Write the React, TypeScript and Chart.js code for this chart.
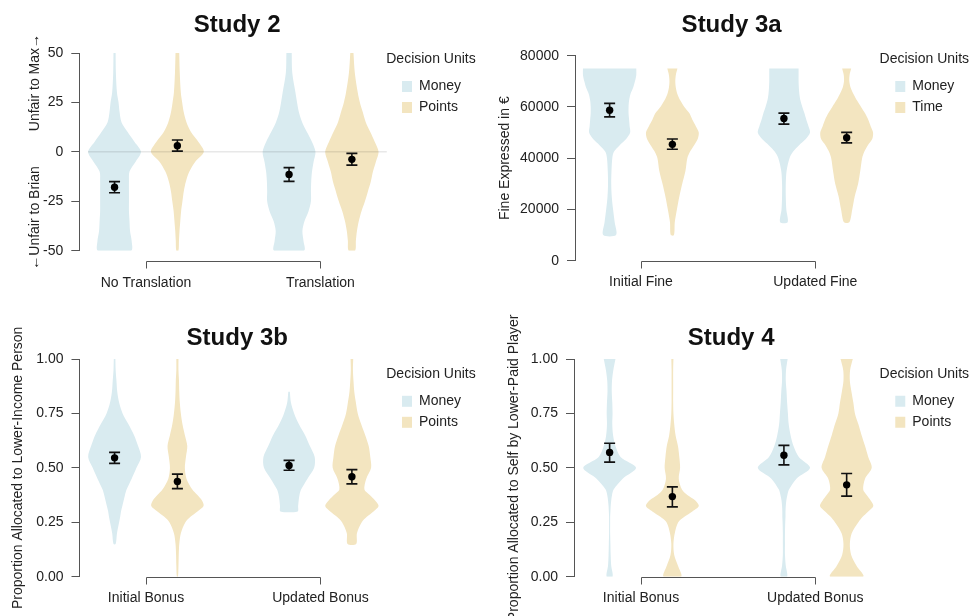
import React, { useEffect, useRef } from 'react';
import { Chart, registerables } from 'chart.js';

Chart.register(...registerables);

const FONT = "'Liberation Sans', Arial, Helvetica, sans-serif";
const BLUE = '#d9ebf0';
const GOLD = '#f3e5c0';
const AXIS = '#555555';
const TEXT = '#222222';
const GROUPS = [1, 2];
const DODGE = 0.18;
const VIOLIN_HALF_WIDTH = 0.153;
const LEGEND_TITLE = 'Decision Units';

// ---------- Study 2 ----------
const s2Categories = ['No Translation', 'Translation'];
const s2Units = ['Money', 'Points'];
const s2Ticks = [-50, -25, 0, 25, 50];
const s2Levels = [50, 40, 30, 25, 20, 15, 10, 5, 0, -5, -10, -15, -20, -25, -30, -35, -40, -45, -50];
const s2MoneyNoTrans = [0.04, 0.05, 0.09, 0.15, 0.19, 0.26, 0.49, 0.75, 0.99, 0.79, 0.56, 0.54, 0.54, 0.54, 0.54, 0.56, 0.58, 0.64, 0.62];
const s2PointsNoTrans = [0.07, 0.09, 0.13, 0.18, 0.24, 0.34, 0.51, 0.79, 0.99, 0.67, 0.45, 0.32, 0.24, 0.19, 0.14, 0.11, 0.08, 0.06, 0.04];
const s2MoneyTrans = [0.10, 0.12, 0.24, 0.30, 0.37, 0.49, 0.67, 0.86, 0.99, 0.92, 0.86, 0.83, 0.82, 0.82, 0.73, 0.58, 0.50, 0.54, 0.56];
const s2PointsTrans = [0.06, 0.11, 0.22, 0.30, 0.41, 0.52, 0.69, 0.86, 1.0, 0.90, 0.79, 0.71, 0.60, 0.49, 0.36, 0.26, 0.19, 0.15, 0.12];
const s2Means = [-17.9, 3.1, -11.4, -3.8];
const s2Lower = [-20.7, 0.4, -14.9, -6.7];
const s2Upper = [-15.1, 6.0, -8.0, -0.8];
const s2ZeroLine = [0.668, 2.38];

// ---------- Study 3a ----------
const s3aCategories = ['Initial Fine', 'Updated Fine'];
const s3aUnits = ['Money', 'Time'];
const s3aTicks = [0, 20000, 40000, 60000, 80000];
const s3aLevels = [75000, 72500, 70000, 67500, 65000, 62500, 60000, 57500, 55000, 52500, 50000, 47500, 45000, 42500, 40000, 35000, 30000, 25000, 20000, 15000, 10000];
const s3aMoneyInitial = [1.0, 1.0, 0.95, 0.88, 0.78, 0.73, 0.71, 0.71, 0.73, 0.75, 0.77, 0.62, 0.37, 0.16, 0.10, 0.07, 0.06, 0.08, 0.13, 0.19, 0.24];
const s3aTimeInitial = [0.19, 0.13, 0.11, 0.13, 0.19, 0.30, 0.45, 0.64, 0.75, 0.88, 0.99, 0.95, 0.81, 0.66, 0.56, 0.49, 0.37, 0.26, 0.17, 0.09, 0.06];
const s3aMoneyUpdated = [0.55, 0.55, 0.55, 0.56, 0.58, 0.62, 0.69, 0.77, 0.84, 0.92, 0.98, 0.82, 0.56, 0.34, 0.21, 0.10, 0.07, 0.07, 0.09, 0.14, null];
const s3aTimeUpdated = [0.17, 0.11, 0.10, 0.15, 0.26, 0.39, 0.54, 0.69, 0.81, 0.90, 0.99, 0.96, 0.79, 0.66, 0.58, 0.51, 0.43, 0.30, 0.21, 0.10, null];
const s3aMeans = [58700, 45400, 55500, 48000];
const s3aLower = [56100, 43500, 53300, 46000];
const s3aUpper = [61400, 47500, 57600, 50100];

// ---------- Study 3b ----------
const s3bCategories = ['Initial Bonus', 'Updated Bonus'];
const s3bUnits = ['Money', 'Points'];
const propTicks = [0, 0.25, 0.5, 0.75, 1];
const propLevels = [1, 0.95, 0.9, 0.85, 0.8, 0.75, 0.7, 0.65, 0.6, 0.55, 0.5, 0.45, 0.4, 0.375, 0.35, 0.325, 0.3, 0.275, 0.25, 0.2, 0.15, 0.1, 0.05, 0];
const s3bMoneyInitial = [0.03, 0.04, 0.07, 0.10, 0.17, 0.30, 0.52, 0.73, 0.88, 0.99, 0.82, 0.64, 0.45, 0.39, 0.34, 0.29, 0.24, 0.21, 0.17, 0.09, 0.04, null, null, null];
const s3bPointsInitial = [0.04, 0.04, 0.06, 0.07, 0.09, 0.13, 0.19, 0.28, 0.37, 0.32, 0.28, 0.34, 0.56, 0.75, 0.92, 0.98, 0.75, 0.49, 0.30, 0.13, 0.07, 0.05, 0.04, 0.02];
const s3bMoneyUpdated = [null, null, null, 0.03, 0.07, 0.19, 0.37, 0.60, 0.78, 0.96, 0.94, 0.69, 0.45, 0.39, 0.36, 0.34, 0.32, null, null, null, null, null, null, null];
const s3bPointsUpdated = [0.05, 0.04, 0.06, 0.09, 0.15, 0.22, 0.35, 0.50, 0.63, 0.69, 0.72, 0.54, 0.47, 0.67, 0.87, 1.0, 0.81, 0.56, 0.37, 0.19, 0.16, null, null, null];
const s3bMeans = [0.546, 0.437, 0.511, 0.459];
const s3bLower = [0.521, 0.405, 0.489, 0.426];
const s3bUpper = [0.571, 0.471, 0.534, 0.492];

// ---------- Study 4 ----------
const s4Categories = ['Initial Bonus', 'Updated Bonus'];
const s4Units = ['Money', 'Points'];
const s4MoneyInitial = [0.22, 0.14, 0.09, 0.08, 0.10, 0.11, 0.10, 0.13, 0.22, 0.41, 0.99, 0.49, 0.15, 0.09, 0.06, 0.04, 0.03, 0.02, 0.02, 0.02, 0.03, 0.04, 0.06, 0.11];
const s4PointsInitial = [0.04, 0.03, 0.03, 0.03, 0.03, 0.04, 0.07, 0.12, 0.21, 0.26, 0.29, 0.24, 0.36, 0.56, 0.86, 0.99, 0.75, 0.45, 0.22, 0.09, 0.04, 0.07, 0.21, 0.33];
const s4MoneyUpdated = [0.14, 0.08, 0.07, 0.10, 0.12, 0.15, 0.18, 0.25, 0.36, 0.56, 0.98, 0.47, 0.19, 0.13, 0.09, 0.07, 0.06, 0.06, 0.05, 0.04, 0.04, 0.04, 0.07, 0.12];
const s4PointsUpdated = [0.23, 0.13, 0.12, 0.18, 0.25, 0.31, 0.44, 0.56, 0.69, 0.81, 0.94, 0.69, 0.62, 0.75, 0.90, 1.0, 0.81, 0.60, 0.44, 0.19, 0.12, 0.17, 0.37, 0.62];
const s4Means = [0.571, 0.368, 0.558, 0.422];
const s4Lower = [0.526, 0.321, 0.514, 0.370];
const s4Upper = [0.613, 0.413, 0.603, 0.474];

Chart.defaults.font.family = FONT;
Chart.defaults.color = TEXT;

type Layout = {
  left: number; top: number;
  yAxisWidth: number; xAxisHeight: number; padRight: number;
  xMin: number; xMax: number;
  titlePad: [number, number]; legendTitlePad: [number, number];
  xTickPad: number; bracketOffset: number; yTitleX: number;
};

type Spec = {
  title: string; yTitle: string; categories: string[]; units: string[];
  ticks: number[]; fmt: (v: number) => string; levels: number[];
  violins: (number | null)[][]; means: number[]; lower: number[]; upper: number[];
  zeroLine?: number[]; layout: Layout;
};

const ARROW_GAP = '\u00A0'.repeat(9);

const specs: Spec[] = [
  {
    title: 'Study 2', yTitle: '\u2190Unfair to Brian' + ARROW_GAP + 'Unfair to Max\u2192',
    categories: s2Categories, units: s2Units, ticks: s2Ticks, fmt: (v) => String(v), levels: s2Levels,
    violins: [s2MoneyNoTrans, s2PointsNoTrans, s2MoneyTrans, s2PointsTrans],
    means: s2Means, lower: s2Lower, upper: s2Upper, zeroLine: s2ZeroLine,
    layout: { left: 0, top: 0, yAxisWidth: 79.3, xAxisHeight: 57.3, padRight: 15, xMin: 0.618, xMax: 2.427,
      titlePad: [10.6, 13.6], legendTitlePad: [52.5, 3.2], xTickPad: 24, bracketOffset: 10.5, yTitleX: 35 },
  },
  {
    title: 'Study 3a', yTitle: 'Fine Expressed in \u20AC',
    categories: s3aCategories, units: s3aUnits, ticks: s3aTicks, fmt: (v) => String(v), levels: s3aLevels,
    violins: [s3aMoneyInitial, s3aTimeInitial, s3aMoneyUpdated, s3aTimeUpdated],
    means: s3aMeans, lower: s3aLower, upper: s3aUpper,
    layout: { left: 486, top: 0, yAxisWidth: 89, xAxisHeight: 47.3, padRight: 7.7, xMin: 0.6213, xMax: 2.4188,
      titlePad: [10.6, 16.3], legendTitlePad: [52.5, 3.2], xTickPad: 13.1, bracketOffset: 0, yTitleX: 19 },
  },
  {
    title: 'Study 3b', yTitle: 'Proportion Allocated to Lower-Income Person',
    categories: s3bCategories, units: s3bUnits, ticks: propTicks, fmt: (v) => v.toFixed(2), levels: propLevels,
    violins: [s3bMoneyInitial, s3bPointsInitial, s3bMoneyUpdated, s3bPointsUpdated],
    means: s3bMeans, lower: s3bLower, upper: s3bUpper,
    layout: { left: 0, top: 308, yAxisWidth: 79.5, xAxisHeight: 39.3, padRight: 15, xMin: 0.6189, xMax: 2.427,
      titlePad: [16.3, 5.9], legendTitlePad: [58.7, 3.8], xTickPad: 12.9, bracketOffset: 0, yTitleX: 18.3 },
  },
  {
    title: 'Study 4', yTitle: 'Proportion Allocated to Self by Lower-Paid Player',
    categories: s4Categories, units: s4Units, ticks: propTicks, fmt: (v) => v.toFixed(2), levels: propLevels,
    violins: [s4MoneyInitial, s4PointsInitial, s4MoneyUpdated, s4PointsUpdated],
    means: s4Means, lower: s4Lower, upper: s4Upper,
    layout: { left: 486, top: 308, yAxisWidth: 88, xAxisHeight: 39.3, padRight: 7.7, xMin: 0.6156, xMax: 2.4188,
      titlePad: [16.3, 5.9], legendTitlePad: [58.7, 3.8], xTickPad: 12.9, bracketOffset: 0, yTitleX: 28 },
  },
];

function violinPoints(cx: number, levels: number[], dens: (number | null)[]) {
  const right: { x: number; y: number }[] = [];
  const left: { x: number; y: number }[] = [];
  levels.forEach((lv, i) => {
    const d = dens[i];
    if (d == null) return;
    right.push({ x: cx + d * VIOLIN_HALF_WIDTH, y: lv });
    left.push({ x: cx - d * VIOLIN_HALF_WIDTH, y: lv });
  });
  return right.concat(left.reverse());
}

const violinFillPlugin = {
  id: 'violinFill',
  beforeDatasetDraw(chart: any, args: any) {
    const ds = chart.data.datasets[args.index];
    if (!ds || !ds.violin) return;
    const line = args.meta.dataset;
    if (!line) return;
    const ctx = chart.ctx;
    const area = chart.chartArea;
    if (line.updateControlPoints) line.updateControlPoints(area, 'x');
    ctx.save();
    ctx.beginPath();
    ctx.rect(area.left, area.top, area.right - area.left, area.bottom - area.top);
    ctx.clip();
    ctx.beginPath();
    line.path(ctx);
    ctx.closePath();
    ctx.fillStyle = ds.violinColor;
    ctx.fill();
    ctx.restore();
  },
};

const bracketPlugin = {
  id: 'bracket',
  afterDraw(chart: any, _args: any, opts: any) {
    const xs = chart.scales.x;
    const area = chart.chartArea;
    const ctx = chart.ctx;
    const x1 = Math.round(xs.getPixelForValue(GROUPS[0])) + 0.5;
    const x2 = Math.round(xs.getPixelForValue(GROUPS[1])) + 0.5;
    const y = Math.round(area.bottom + (opts.offset || 0)) + 0.5;
    ctx.save();
    ctx.strokeStyle = AXIS;
    ctx.lineWidth = 1;
    ctx.beginPath();
    ctx.moveTo(x1, y + 7);
    ctx.lineTo(x1, y);
    ctx.lineTo(x2, y);
    ctx.lineTo(x2, y + 7);
    ctx.stroke();
    ctx.restore();
  },
};

const sideTitlePlugin = {
  id: 'sideTitle',
  afterDraw(chart: any, _args: any, opts: any) {
    const { ctx, chartArea } = chart;
    ctx.save();
    ctx.translate(opts.x, (chartArea.top + chartArea.bottom) / 2);
    ctx.rotate(-Math.PI / 2);
    ctx.font = `14px ${FONT}`;
    ctx.fillStyle = TEXT;
    ctx.textAlign = 'center';
    ctx.textBaseline = 'middle';
    ctx.fillText(opts.text, 0, 0);
    ctx.restore();
  },
};

// The legend box clips its own title when the title is wider than the items,
// so the legend title is drawn here, centred over the legend box.
const legendTitlePlugin = {
  id: 'legendTitle',
  afterDraw(chart: any, _args: any, opts: any) {
    const lg = chart.legend;
    if (!lg) return;
    const ctx = chart.ctx;
    ctx.save();
    ctx.font = `14px ${FONT}`;
    ctx.fillStyle = TEXT;
    ctx.textAlign = 'center';
    ctx.textBaseline = 'middle';
    ctx.fillText(opts.text, lg.left + lg.width / 2 - 2, lg.top + opts.padTop + 7);
    ctx.restore();
  },
};

function buildConfig(p: Spec): any {
  const L = p.layout;
  const colors = [BLUE, GOLD];
  const xs = [GROUPS[0] - DODGE, GROUPS[0] + DODGE, GROUPS[1] - DODGE, GROUPS[1] + DODGE];
  const datasets: any[] = [];
  p.violins.forEach((dens, i) => {
    const unit = i % 2;
    datasets.push({
      label: p.units[unit],
      legendEntry: i < 2,
      violin: true,
      violinColor: colors[unit],
      data: violinPoints(xs[i], p.levels, dens),
      showLine: true,
      fill: false,
      tension: 0.3,
      borderWidth: 0,
      borderColor: 'rgba(0,0,0,0)',
      backgroundColor: colors[unit],
      pointRadius: 0,
      pointHoverRadius: 0,
      order: 3,
    });
  });
  if (p.zeroLine) {
    datasets.push({
      label: 'zero',
      data: [{ x: p.zeroLine[0], y: 0 }, { x: p.zeroLine[1], y: 0 }],
      showLine: true,
      borderColor: 'rgba(0,0,0,0.14)',
      borderWidth: 1,
      pointRadius: 0,
      pointHoverRadius: 0,
      order: 2,
    });
  }
  xs.forEach((x, i) => {
    datasets.push({
      label: 'ci',
      data: [{ x, y: p.lower[i] }, { x, y: p.upper[i] }],
      showLine: true,
      borderColor: '#111',
      borderWidth: 1.6,
      pointStyle: 'line',
      pointRadius: 5.5,
      pointHoverRadius: 5.5,
      pointBorderColor: '#111',
      pointBorderWidth: 1.7,
      order: 1,
    });
  });
  datasets.push({
    label: 'mean',
    data: xs.map((x, i) => ({ x, y: p.means[i] })),
    showLine: false,
    pointRadius: 3.7,
    pointHoverRadius: 3.7,
    pointBackgroundColor: '#000',
    pointBorderColor: '#000',
    pointBorderWidth: 0,
    order: 0,
  });

  return {
    type: 'scatter',
    data: { datasets },
    plugins: [violinFillPlugin, bracketPlugin, sideTitlePlugin, legendTitlePlugin],
    options: {
      responsive: false,
      animation: false,
      events: [],
      layout: { padding: { left: 0, top: 0, right: L.padRight, bottom: 0 } },
      scales: {
        x: {
          type: 'linear',
          min: L.xMin,
          max: L.xMax,
          grid: { display: false, drawTicks: false },
          border: { display: false },
          afterBuildTicks: (s: any) => { s.ticks = GROUPS.map((v) => ({ value: v })); },
          afterFit: (s: any) => { s.height = L.xAxisHeight; },
          ticks: {
            callback: (_v: any, i: number) => p.categories[i],
            font: { size: 14 },
            color: TEXT,
            padding: L.xTickPad,
            maxRotation: 0,
            autoSkip: false,
          },
        },
        y: {
          type: 'linear',
          min: p.ticks[0],
          max: p.ticks[p.ticks.length - 1],
          grid: { drawOnChartArea: false, drawTicks: true, tickLength: 8, color: AXIS, lineWidth: 1 },
          border: { display: true, color: AXIS, width: 1 },
          afterBuildTicks: (s: any) => { s.ticks = p.ticks.map((v) => ({ value: v })); },
          afterFit: (s: any) => { s.width = L.yAxisWidth; },
          ticks: {
            callback: (v: any) => p.fmt(Number(v)),
            font: { size: 14 },
            color: TEXT,
            padding: 8,
            autoSkip: false,
          },
        },
      },
      plugins: {
        tooltip: { enabled: false },
        title: {
          display: true,
          text: p.title,
          font: { size: 24, weight: 'bold' },
          color: '#111',
          padding: { top: L.titlePad[0], bottom: L.titlePad[1] },
          fullSize: false,
        },
        legend: {
          display: true,
          position: 'right',
          align: 'start',
          fullSize: true,
          title: {
            display: true,
            text: '',
            font: { size: 14 },
            color: TEXT,
            position: 'center',
            padding: { top: L.legendTitlePad[0], bottom: L.legendTitlePad[1] },
          },
          labels: {
            boxWidth: 10,
            boxHeight: 11,
            padding: 7,
            font: { size: 14 },
            color: TEXT,
            filter: (item: any, data: any) => !!data.datasets[item.datasetIndex].legendEntry,
          },
        },
        legendTitle: { text: LEGEND_TITLE, padTop: L.legendTitlePad[0] },
        bracket: { offset: L.bracketOffset },
        sideTitle: { text: p.yTitle, x: L.yTitleX },
      },
    },
  };
}

function Panel({ spec }: { spec: Spec }) {
  const ref = useRef<HTMLCanvasElement | null>(null);
  useEffect(() => {
    if (!ref.current) return;
    const chart = new Chart(ref.current, buildConfig(spec));
    return () => chart.destroy();
  }, [spec]);
  return (
    <canvas
      ref={ref}
      width={486}
      height={308}
      style={{ position: 'absolute', left: spec.layout.left, top: spec.layout.top, width: 486, height: 308 }}
    />
  );
}

export default function App() {
  return (
    <div style={{ position: 'absolute', left: 0, top: 0, width: 972, height: 616, background: '#ffffff', overflow: 'hidden' }}>
      {specs.map((s) => (
        <Panel key={s.title} spec={s} />
      ))}
    </div>
  );
}
